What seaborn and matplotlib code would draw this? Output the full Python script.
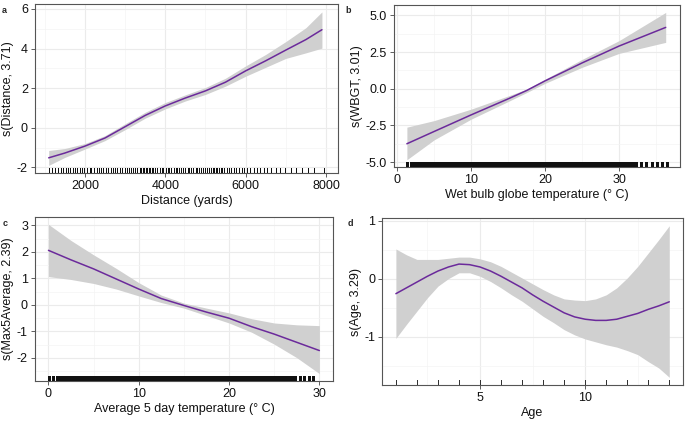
import numpy as np
import pandas as pd
import matplotlib
matplotlib.use("Agg")
import matplotlib.pyplot as plt
import seaborn as sns
from matplotlib.ticker import AutoMinorLocator, MultipleLocator, FormatStrFormatter

# ---- panel a: Distance ----
dist_x = [1100, 1500, 2000, 2500, 3000, 3500, 4000, 4500, 5000, 5500, 6000, 6500, 7000, 7500, 7900]
dist_fit = [-1.52, -1.28, -0.93, -0.52, 0.05, 0.62, 1.10, 1.50, 1.86, 2.30, 2.87, 3.38, 3.92, 4.45, 4.95]
dist_hi = [-1.15, -1.05, -0.80, -0.40, 0.20, 0.78, 1.27, 1.66, 2.03, 2.50, 3.12, 3.70, 4.35, 5.05, 5.85]
dist_lo = [-1.90, -1.50, -1.08, -0.65, -0.10, 0.48, 0.95, 1.35, 1.68, 2.10, 2.60, 3.05, 3.50, 3.78, 4.02]
dist_rug = [1110, 1180, 1250, 1320, 1400, 1460, 1530, 1580, 1620, 1700, 1760, 1800, 1870, 1920,
            1990, 2060, 2120, 2160, 2230, 2290, 2350, 2410, 2450, 2520, 2580, 2640, 2700, 2760,
            2800, 2870, 2930, 2990, 3050, 3100, 3150, 3200, 3260, 3310, 3360, 3400, 3440, 3480,
            3520, 3550, 3590, 3620, 3660, 3700, 3750, 3800, 3860, 3910, 3950, 4010, 4060, 4100,
            4150, 4210, 4260, 4300, 4350, 4400, 4450, 4500, 4560, 4600, 4650, 4700, 4760, 4800,
            4850, 4900, 4950, 5000, 5050, 5100, 5140, 5180, 5220, 5260, 5300, 5340, 5380, 5420,
            5470, 5530, 5580, 5640, 5700, 5760, 5830, 5900, 5960, 6040, 6120, 6200, 6280, 6370,
            6450, 6540, 6640, 6750, 6860, 6990, 7120, 7260, 7400, 7560, 7710, 7950]

# ---- panel b: WBGT ----
wbgt_x = [1.3, 5, 10, 15, 17.5, 20, 25, 30, 36.3]
wbgt_fit = [-3.75, -2.91, -1.78, -0.69, -0.12, 0.54, 1.76, 2.91, 4.18]
wbgt_hi = [-2.62, -2.17, -1.39, -0.49, -0.03, 0.65, 2.00, 3.28, 5.20]
wbgt_lo = [-4.84, -3.48, -2.07, -0.87, -0.26, 0.37, 1.46, 2.41, 3.16]
wbgt_rug = [1.3, 1.8, 2.2, 2.6, 2.9, 3.3, 3.6,
            3.9, 4.2, 4.4, 4.7, 4.9, 5.1, 5.4, 5.6, 5.8, 6.0, 6.3, 6.5, 6.7, 6.9, 7.1, 7.3,
            7.5, 7.7, 7.9, 8.1, 8.3, 8.5,
            8.8, 9.0, 9.2, 9.4, 9.6, 9.8, 10.0, 10.2, 10.4, 10.6, 10.8, 11.0, 11.2, 11.4, 11.6,
            11.8, 12.0, 12.2, 12.4, 12.6, 12.8, 13.0, 13.2, 13.4, 13.6, 13.8, 14.0, 14.2, 14.4,
            14.6, 14.8, 15.0, 15.2, 15.4, 15.6, 15.8, 16.0, 16.2, 16.4, 16.6, 16.8, 17.0, 17.2,
            17.4, 17.6, 17.8, 18.0, 18.2, 18.4, 18.6, 18.8, 19.0, 19.2, 19.4, 19.6, 19.8, 20.0,
            20.2, 20.4, 20.6, 20.8, 21.0, 21.2, 21.4, 21.6, 21.8, 22.0, 22.2, 22.4, 22.6, 22.8,
            23.0, 23.2, 23.4, 23.6, 23.8, 24.0, 24.2, 24.4,
            24.7, 25.0, 25.2, 25.5, 25.8, 26.0, 26.3, 26.6, 26.9, 27.2, 27.5, 27.7, 27.9, 28.1,
            28.3, 28.5, 28.7, 28.9, 29.1, 29.3, 29.5, 29.8, 30.1, 30.4, 30.7, 31.1, 31.5, 31.9,
            32.3,
            32.9, 33.6, 34.4, 35.1, 35.8, 36.5]

# ---- panel c: Max5Average ----
temp_x = [0, 2.5, 5, 7.5, 10, 12.5, 15, 17.5, 20, 22.5, 25, 27.5, 30]
temp_fit = [2.06, 1.70, 1.36, 0.98, 0.60, 0.24, -0.02, -0.27, -0.50, -0.82, -1.10, -1.41, -1.72]
temp_hi = [3.04, 2.43, 1.89, 1.38, 0.84, 0.37, 0.07, -0.12, -0.30, -0.52, -0.68, -0.75, -0.78]
temp_lo = [1.07, 0.96, 0.81, 0.60, 0.34, 0.09, -0.12, -0.40, -0.68, -1.03, -1.48, -1.99, -2.59]
temp_rug = [0.1, 0.5, 0.9,
            1.3, 1.6, 1.9, 2.2, 2.5, 2.8, 3.1, 3.4, 3.6, 3.9, 4.1, 4.4, 4.6, 4.8, 5.0, 5.2,
            5.4, 5.6, 5.8, 6.0, 6.2, 6.4, 6.6, 6.8,
            7.0, 7.2, 7.4, 7.6, 7.8, 8.0, 8.2, 8.4, 8.6, 8.8, 9.0, 9.2, 9.4, 9.6, 9.8, 10.0,
            10.2, 10.4, 10.6, 10.8, 11.0, 11.2, 11.4, 11.6, 11.8, 12.0, 12.2, 12.4, 12.6, 12.8,
            13.0, 13.2, 13.4, 13.6, 13.8, 14.0, 14.2, 14.4, 14.6, 14.8, 15.0, 15.2, 15.4, 15.6,
            15.8, 16.0, 16.2, 16.4, 16.6, 16.8, 17.0, 17.2, 17.4, 17.6, 17.8, 18.0, 18.2, 18.4,
            18.6, 18.8, 19.0, 19.2, 19.4, 19.6, 19.8, 20.0, 20.2, 20.4, 20.6, 20.8, 21.0, 21.2,
            21.4, 21.6, 21.8,
            22.1, 22.4, 22.6, 22.9, 23.1, 23.4, 23.7, 23.9, 24.2, 24.5, 24.8, 25.1, 25.4, 25.7,
            26.0, 26.3, 26.6, 27.0, 27.3,
            27.8, 28.3, 28.8, 29.3]

# ---- panel d: Age ----
age_x = [1, 1.5, 2, 2.5, 3, 3.5, 4, 4.5, 5, 5.5, 6, 6.5, 7, 7.5, 8, 8.5, 9, 9.5, 10,
         10.5, 11, 11.5, 12, 12.5, 13, 13.5, 14]
age_fit = [-0.26, -0.16, -0.06, 0.04, 0.13, 0.20, 0.25, 0.24, 0.20, 0.13, 0.04, -0.06, -0.16,
           -0.28, -0.39, -0.49, -0.59, -0.66, -0.70, -0.72, -0.72, -0.70, -0.65, -0.60, -0.53,
           -0.47, -0.40]
age_hi = [0.51, 0.41, 0.33, 0.33, 0.33, 0.35, 0.37, 0.37, 0.34, 0.29, 0.21, 0.11, 0.01,
          -0.09, -0.19, -0.28, -0.35, -0.37, -0.38, -0.35, -0.28, -0.16, 0.01, 0.21, 0.44,
          0.67, 0.91]
age_lo = [-1.03, -0.79, -0.56, -0.33, -0.13, 0.00, 0.10, 0.10, 0.04, -0.05, -0.16, -0.28,
          -0.39, -0.52, -0.65, -0.76, -0.88, -0.97, -1.04, -1.09, -1.14, -1.18, -1.24, -1.31,
          -1.43, -1.54, -1.70]
age_rug = [1, 2, 3, 4, 5, 6, 7, 8, 9, 10, 11, 12, 13, 14]

line_col = "#6B2A9B"
band_col = "#D0D0D0"

sns.set_theme(style="whitegrid", rc={
    "axes.edgecolor": "#555555",
    "axes.linewidth": 0.8,
    "grid.color": "#EBEBEB",
    "grid.linewidth": 0.8,
    "xtick.color": "#444444",
    "ytick.color": "#444444",
    "xtick.bottom": True,
    "ytick.left": True,
    "xtick.major.size": 3,
    "ytick.major.size": 3,
    "xtick.major.width": 0.6,
    "ytick.major.width": 0.6,
    "xtick.major.pad": 2,
    "ytick.major.pad": 2,
    "axes.labelsize": 9,
    "xtick.labelsize": 9,
    "ytick.labelsize": 9,
    "axes.labelcolor": "#111111",
    "axes.unicode_minus": False,
})
plt.rcParams['font.family'] = ['Liberation Sans', 'DejaVu Sans']
plt.rcParams['xtick.labelcolor'] = "#111111"
plt.rcParams['ytick.labelcolor'] = "#111111"

fig = plt.figure(figsize=(6.85, 4.22), dpi=100)

panels = [
    ("a", [0.051, 0.590, 0.442, 0.400], dist_x, dist_fit, dist_hi, dist_lo, dist_rug,
     "Distance (yards)", "s(Distance, 3.71)", 2000, 2),
    ("b", [0.575, 0.604, 0.418, 0.384], wbgt_x, wbgt_fit, wbgt_hi, wbgt_lo, wbgt_rug,
     "Wet bulb globe temperature (° C)", "s(WBGT, 3.01)", 10, 2.5),
    ("c", [0.051, 0.097, 0.435, 0.389], temp_x, temp_fit, temp_hi, temp_lo, temp_rug,
     "Average 5 day temperature (° C)", "s(Max5Average, 2.39)", 10, 1),
    ("d", [0.558, 0.088, 0.439, 0.395], age_x, age_fit, age_hi, age_lo, age_rug,
     "Age", "s(Age, 3.29)", 5, 1),
]

label_pos = {"a": (0.003, 0.985), "b": (0.504, 0.985), "c": (0.004, 0.482), "d": (0.507, 0.480)}
rug_width = {"a": 0.5, "b": 0.75, "c": 0.75, "d": 0.6}

for tag, rect, x, fit, hi, lo, rug, xlab, ylab, xstep, ystep in panels:
    ax = fig.add_axes(rect)
    df = pd.DataFrame({"x": x, "fit": fit, "hi": hi, "lo": lo})
    ax.fill_between(df["x"], df["lo"], df["hi"], color=band_col, lw=0, zorder=2)
    sns.lineplot(data=df, x="x", y="fit", color=line_col, lw=1.1, ax=ax, zorder=3)
    # rug of observations along the bottom edge
    rug_col = "#333333" if tag == "d" else "#111111"
    ax.vlines(rug, 0, 0.03, transform=ax.get_xaxis_transform(), colors=rug_col,
              linewidth=rug_width[tag], antialiased=False, zorder=4)

    ymin = min(lo)
    ymax = max(hi)
    pad = 0.05 * (ymax - ymin)
    ax.set_ylim(ymin - pad, ymax + pad)
    xmin = min(min(x), min(rug))
    xmax = max(max(x), max(rug))
    xpad = 0.05 * (xmax - xmin)
    ax.set_xlim(xmin - xpad, xmax + xpad)

    ax.xaxis.set_major_locator(MultipleLocator(xstep))
    ax.yaxis.set_major_locator(MultipleLocator(ystep))
    ax.xaxis.set_minor_locator(AutoMinorLocator(2))
    ax.yaxis.set_minor_locator(AutoMinorLocator(2))
    ax.tick_params(which="minor", length=0)
    ax.grid(which="major", color="#EBEBEB", lw=0.8, zorder=0)
    ax.grid(which="minor", color="#F4F4F4", lw=0.5, zorder=0)
    ax.set_axisbelow(True)
    for sp in ax.spines.values():
        sp.set_visible(True)
        sp.set_color("#555555")
        sp.set_linewidth(0.8)

    if tag == "b":
        ax.yaxis.set_major_formatter(FormatStrFormatter("%.1f"))

    ax.set_xlabel(xlab, labelpad=2)
    ax.set_ylabel(ylab, labelpad=2)
    fig.text(label_pos[tag][0], label_pos[tag][1], tag, fontsize=6.5, fontweight="bold",
             va="top", ha="left")

fig.savefig("out.png", dpi=100, facecolor="white")
